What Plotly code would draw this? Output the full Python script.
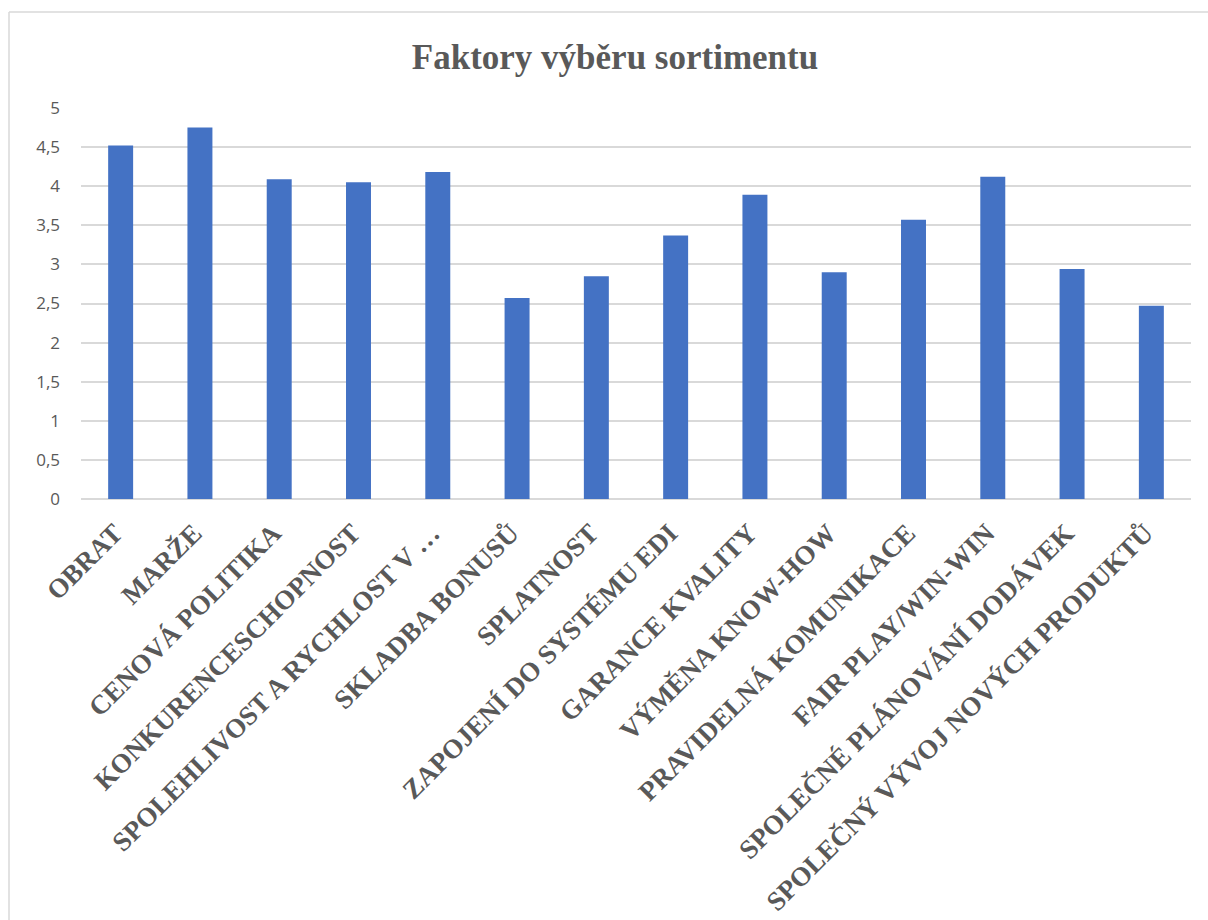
import plotly.graph_objects as go

categories = [
    "OBRAT", "MARŽE", "CENOVÁ POLITIKA", "KONKURENCESCHOPNOST",
    "SPOLEHLIVOST A RYCHLOST V …", "SKLADBA BONUSŮ", "SPLATNOST",
    "ZAPOJENÍ DO SYSTÉMU EDI", "GARANCE KVALITY", "VÝMĚNA KNOW-HOW",
    "PRAVIDELNÁ KOMUNIKACE", "FAIR PLAY/WIN-WIN",
    "SPOLEČNÉ PLÁNOVÁNÍ DODÁVEK", "SPOLEČNÝ VÝVOJ NOVÝCH PRODUKTŮ",
]
values = [4.52, 4.75, 4.09, 4.05, 4.18, 2.57, 2.85, 3.37, 3.89, 2.90, 3.57, 4.12, 2.94, 2.47]
y_ticks = [0, 0.5, 1, 1.5, 2, 2.5, 3, 3.5, 4, 4.5, 5]
y_tick_labels = ["0", "0,5", "1", "1,5", "2", "2,5", "3", "3,5", "4", "4,5", "5"]

W, H = 1208, 920
L, R, T, B = 81, 17, 108, 421
pw, ph = W - L - R, H - T - B

def px_x(x):
    return (x - L) / pw

def px_y(y):
    return (H - B - y) / ph

fig = go.Figure()
fig.add_trace(go.Bar(
    x=categories, y=values,
    marker=dict(color="#4472C4", line=dict(width=0)),
    width=0.315,
))

fig.update_layout(
    width=W, height=H,
    margin=dict(l=L, r=R, t=T, b=B, autoexpand=False),
    paper_bgcolor="white", plot_bgcolor="white",
    showlegend=False,
    title=dict(
        text="Faktory výběru sortimentu",
        x=615 / W, xanchor="center", xref="container",
        y=1 - 57 / H, yanchor="middle", yref="container",
        font=dict(family="Liberation Serif", size=35, color="#595959", weight="bold"),
    ),
    xaxis=dict(
        tickangle=-45,
        tickfont=dict(family="Liberation Serif", size=27, color="#595959", weight="bold"),
        showgrid=False, showline=False, zeroline=False,
        ticks="", ticklabelstandoff=12, ticklabelshift=-6,
        range=[-0.5, len(categories) - 0.5],
    ),
    yaxis=dict(
        range=[0, 5], tickvals=y_ticks, ticktext=y_tick_labels,
        tickfont=dict(family="Open Sans", size=17, color="#595959"),
        showgrid=True, gridcolor="#d9d9d9", gridwidth=1.5,
        zeroline=True, zerolinecolor="#d9d9d9", zerolinewidth=1.5,
        showline=False, ticks="", ticklabelstandoff=20,
    ),
    shapes=[
        dict(type="line", xref="paper", yref="paper",
             x0=px_x(9), x1=px_x(9), y0=px_y(12), y1=px_y(930),
             line=dict(color="#d9d9d9", width=1.5)),
        dict(type="line", xref="paper", yref="paper",
             x0=px_x(9), x1=px_x(1215), y0=px_y(12), y1=px_y(12),
             line=dict(color="#d9d9d9", width=1.5)),
    ],
)

fig.write_html("out.html")
